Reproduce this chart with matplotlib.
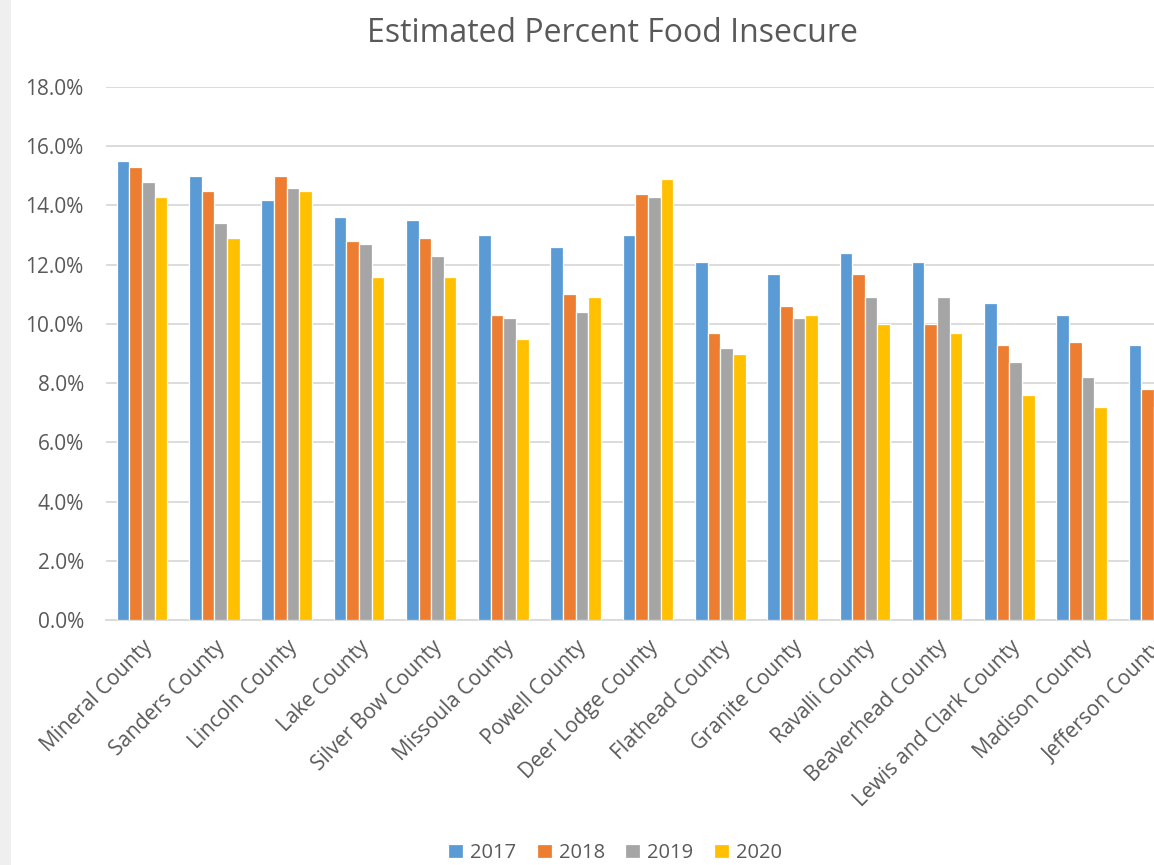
import numpy as np
import matplotlib
matplotlib.use("Agg")
import matplotlib.pyplot as plt
from matplotlib.patches import Rectangle
from matplotlib.ticker import FuncFormatter

# -------------------------------
# Data
# -------------------------------
counties = ["Mineral County", "Sanders County", "Lincoln County", "Lake County",
            "Silver Bow County", "Missoula County", "Powell County", "Deer Lodge County",
            "Flathead County", "Granite County", "Ravalli County", "Beaverhead County",
            "Lewis and Clark County", "Madison County", "Jefferson County"]
years = ["2017", "2018", "2019", "2020"]

pct_2017 = [15.5, 15.0, 14.2, 13.6, 13.5, 13.0, 12.6, 13.0, 12.1, 11.7, 12.4, 12.1, 10.7, 10.3, 9.3]
pct_2018 = [15.3, 14.5, 15.0, 12.8, 12.9, 10.3, 11.0, 14.4, 9.7, 10.6, 11.7, 10.0, 9.3, 9.4, 7.8]
pct_2019 = [14.8, 13.4, 14.6, 12.7, 12.3, 10.2, 10.4, 14.3, 9.2, 10.2, 10.9, 10.9, 8.7, 8.2, 7.2]
pct_2020 = [14.3, 12.9, 14.5, 11.6, 11.6, 9.5, 10.9, 14.9, 9.0, 10.3, 10.0, 9.7, 7.6, 7.2, 7.0]

colors = ["#5B9BD5", "#ED7D31", "#A5A5A5", "#FFC000"]
text_col = "#595959"
grid_col = "#D9D9D9"

plt.rcParams['font.family'] = ['Open Sans', 'DejaVu Sans']

W, H = 1154, 865
fig = plt.figure(figsize=(W / 100, H / 100), dpi=100)
fig.patch.set_facecolor("white")

# light grey strip on the left edge
fig.patches.append(Rectangle((0, 0), 11 / W, 1, transform=fig.transFigure,
                             facecolor="#EFEFEF", edgecolor="none", zorder=0))

# plot area runs past the right edge, as in the reference (cropped)
left, right = 106, 1190
top, bottom = 87, 620
ax = fig.add_axes([left / W, 1 - bottom / H, (right - left) / W, (bottom - top) / H])

x = np.arange(len(counties))
slot = 0.175
series = [pct_2017, pct_2018, pct_2019, pct_2020]
for i, (vals, c, yr) in enumerate(zip(series, colors, years)):
    ax.bar(x + (i - 1.5) * slot, vals, width=slot, color=c, edgecolor="white",
           linewidth=0.9, label=yr, zorder=3)

ax.set_xlim(-0.5, len(counties) - 0.5)
ax.set_ylim(0, 18)
ax.set_yticks(np.arange(0, 18.1, 2))
ax.yaxis.set_major_formatter(FuncFormatter(lambda v, p: f"{v:.1f}%"))
ax.grid(axis="y", color=grid_col, linewidth=1.3, zorder=0)
ax.set_axisbelow(True)

for s in ["top", "right", "left"]:
    ax.spines[s].set_visible(False)
ax.spines["bottom"].set_color(grid_col)
ax.spines["bottom"].set_linewidth(1.3)

ax.tick_params(axis="y", length=0, pad=16, labelsize=15, labelcolor=text_col)
ax.tick_params(axis="x", length=0, pad=12, labelsize=15, labelcolor=text_col)
ax.set_xticks(x)
ax.set_xticklabels(counties, rotation=45, ha="right", rotation_mode="anchor")

fig.text(612 / W, 1 - 33 / H, "Estimated Percent Food Insecure", ha="center", va="center",
         fontsize=23, color=text_col)

fig.legend(loc="center", bbox_to_anchor=(615 / W, 1 - 853 / H), ncol=4, frameon=False,
           fontsize=14.5, handlelength=0.75, handleheight=0.75, handletextpad=0.35,
           columnspacing=1.0, labelcolor=text_col)

fig.savefig("out.png", dpi=100)
